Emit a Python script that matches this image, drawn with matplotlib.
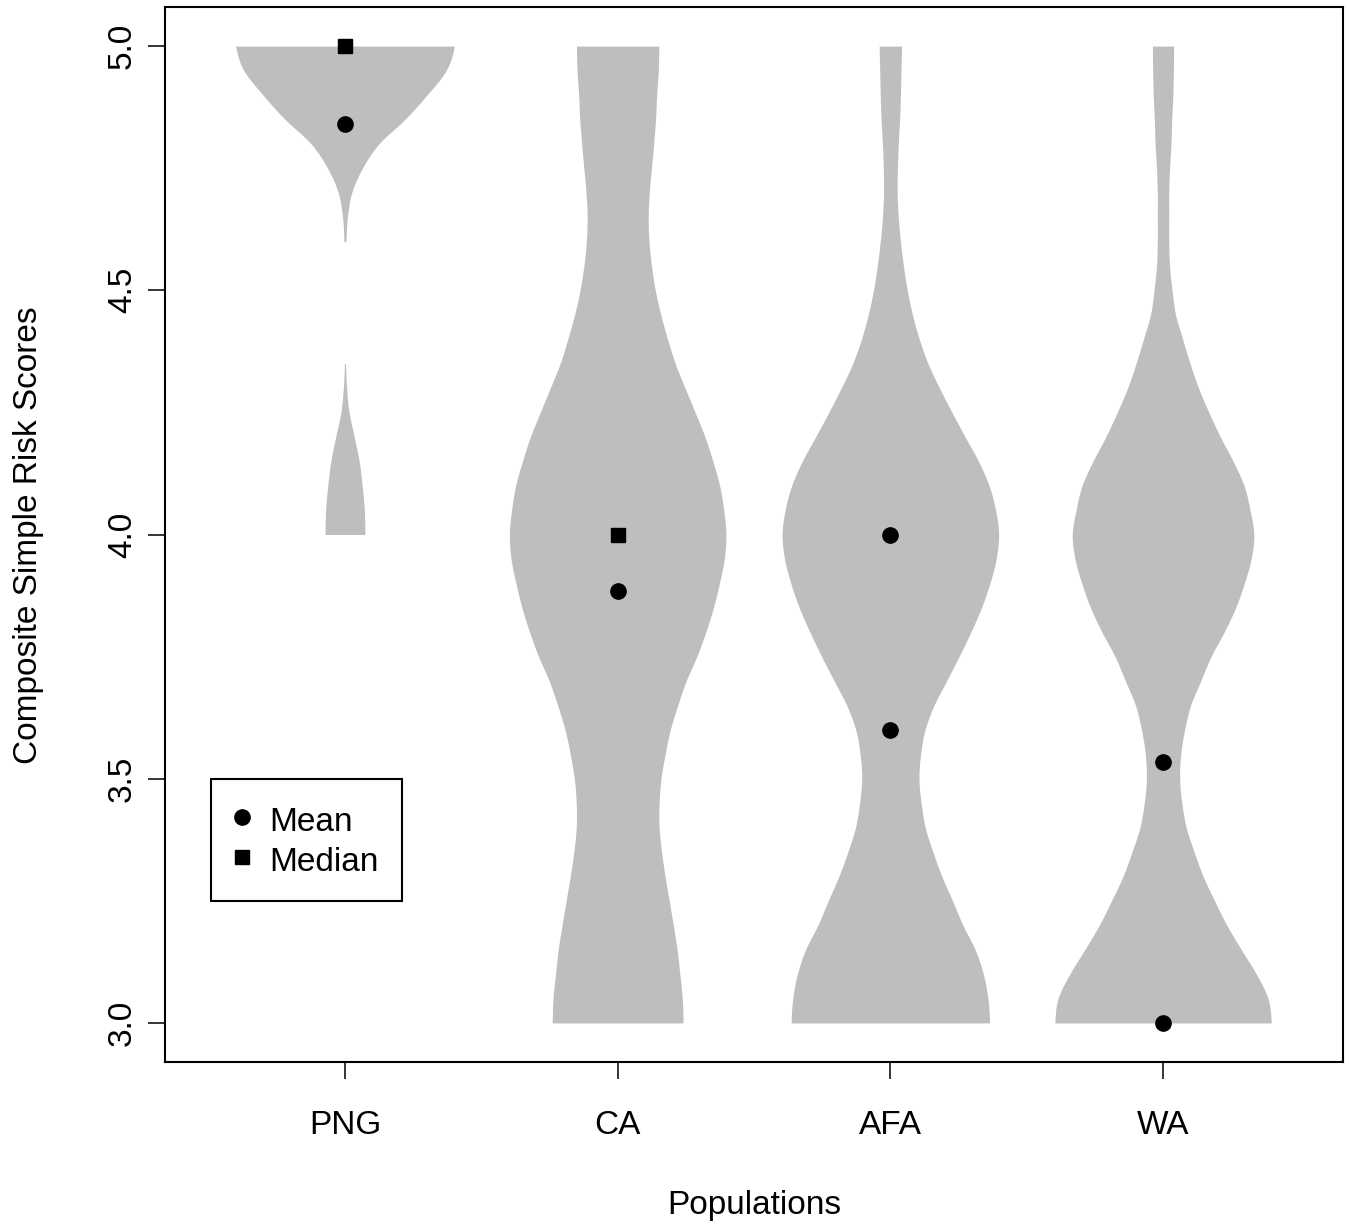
import numpy as np
import matplotlib
matplotlib.use("Agg")
import matplotlib.pyplot as plt
from matplotlib.lines import Line2D

# ---------------- data ----------------
populations = ["PNG", "CA", "AFA", "WA"]

# score levels at which the violin half-widths were read
score_grid = [5.00, 4.95, 4.90, 4.85, 4.80, 4.75, 4.70, 4.65, 4.60, 4.55,
              4.50, 4.45, 4.40, 4.35, 4.30, 4.25, 4.20, 4.15, 4.10, 4.05,
              4.00, 3.95, 3.90, 3.85, 3.80, 3.75, 3.70, 3.65, 3.60, 3.55,
              3.50, 3.45, 3.40, 3.35, 3.30, 3.25, 3.20, 3.15, 3.10, 3.05,
              3.00]

nan = float("nan")
# violin half-widths (density, in category-axis units)
png_width = [0.401, 0.371, 0.301, 0.220, 0.125, 0.064, 0.025, 0.009, 0.004, 0.000,
             0.000, 0.000, 0.000, 0.002, 0.006, 0.015, 0.034, 0.052, 0.063, 0.071,
             0.073, nan, nan, nan, nan, nan, nan, nan, nan, nan,
             nan, nan, nan, nan, nan, nan, nan, nan, nan, nan,
             nan]
ca_width = [0.151, 0.149, 0.143, 0.139, 0.132, 0.124, 0.116, 0.112, 0.115, 0.124,
            0.138, 0.158, 0.183, 0.211, 0.247, 0.284, 0.320, 0.349, 0.374, 0.389,
            0.397, 0.391, 0.373, 0.351, 0.323, 0.290, 0.251, 0.220, 0.193, 0.174,
            0.159, 0.152, 0.152, 0.161, 0.174, 0.189, 0.204, 0.218, 0.228, 0.237,
            0.240]
afa_width = [0.041, 0.039, 0.037, 0.034, 0.029, 0.026, 0.025, 0.029, 0.037, 0.048,
             0.062, 0.081, 0.106, 0.138, 0.180, 0.226, 0.274, 0.323, 0.362, 0.386,
             0.397, 0.388, 0.365, 0.334, 0.295, 0.252, 0.206, 0.160, 0.127, 0.111,
             0.105, 0.113, 0.128, 0.156, 0.189, 0.228, 0.266, 0.311, 0.341, 0.358,
             0.364]
wa_width = [0.039, 0.038, 0.036, 0.032, 0.029, 0.024, 0.021, 0.021, 0.021, 0.024,
            0.033, 0.046, 0.072, 0.099, 0.130, 0.168, 0.210, 0.257, 0.297, 0.319,
            0.333, 0.323, 0.298, 0.266, 0.224, 0.176, 0.138, 0.101, 0.079, 0.065,
            0.061, 0.069, 0.085, 0.114, 0.147, 0.189, 0.234, 0.287, 0.342, 0.385,
            0.397]

mean_scores = [4.84, 3.885, 3.60, 3.535]
median_scores = [5.00, 4.00, 4.00, 3.00]
median_shapes = ["s", "s", "o", "o"]

y_ticks = [3.0, 3.5, 4.0, 4.5, 5.0]
y_tick_labels = ["3.0", "3.5", "4.0", "4.5", "5.0"]


def smooth_run(y, w, n=12):
    """Catmull-Rom resampling of one contiguous run of readings (drawing only)."""
    if len(y) < 3:
        return y, w
    ys, ws = [], []
    k_last = len(y) - 1
    for k in range(k_last):
        p0 = w[max(k - 1, 0)]
        p1 = w[k]
        p2 = w[k + 1]
        p3 = w[min(k + 2, k_last)]
        t = np.linspace(0, 1, n, endpoint=False)
        seg = 0.5 * (2 * p1 + (-p0 + p2) * t + (2 * p0 - 5 * p1 + 4 * p2 - p3) * t ** 2
                     + (-p0 + 3 * p1 - 3 * p2 + p3) * t ** 3)
        ys.append(y[k] + (y[k + 1] - y[k]) * t)
        ws.append(seg)
    ys.append([y[-1]])
    ws.append([w[-1]])
    return np.concatenate(ys), np.clip(np.concatenate(ws), 0, None)


# ---------------- figure ----------------
W, H = 1349, 1226
fig = plt.figure(figsize=(W / 100, H / 100), dpi=100)
FONT = ["Liberation Sans", "DejaVu Sans"]
plt.rcParams["font.family"] = FONT

left, right, top, bottom = 165, 1343, 7, 1062
ax = fig.add_axes([left / W, 1 - bottom / H, (right - left) / W, (bottom - top) / H])

violin_color = "#BEBEBE"
grid = np.array(score_grid)
for i, w in enumerate([png_width, ca_width, afa_width, wa_width]):
    w = np.array(w, dtype=float)
    xc = i + 1
    valid = (~np.isnan(w)) & (w > 0)
    idx = np.where(valid)[0]
    runs = np.split(idx, np.where(np.diff(idx) > 1)[0] + 1)
    for r in runs:
        ys, ws = smooth_run(grid[r], w[r])
        ax.fill_betweenx(ys, xc - ws, xc + ws, color=violin_color,
                         linewidth=0, zorder=1)

pos = np.arange(1, len(populations) + 1)
ax.plot(pos, mean_scores, linestyle="none", marker="o", color="black",
        markersize=11, zorder=3)
for p, v, s in zip(pos, median_scores, median_shapes):
    ax.plot([p], [v], linestyle="none", marker=s, color="black",
            markersize=11 if s == "o" else 10.5, zorder=3)

ax.set_xlim(0.34, 4.66)
ax.set_ylim(2.92, 5.08)
ax.set_xticks(pos)
ax.set_xticklabels(populations)
ax.set_yticks(y_ticks)
ax.set_yticklabels(y_tick_labels, rotation=90, va="center")

for sp in ax.spines.values():
    sp.set_linewidth(1.5)
    sp.set_color("black")
ax.tick_params(axis="x", length=12.5, width=1.1, pad=22, labelsize=24)
ax.tick_params(axis="y", length=12.5, width=1.1, pad=7, labelsize=24)

fig.text(754 / W, 1 - 1214 / H, "Populations", ha="center", va="baseline",
         fontsize=24)
fig.text(29 / W, 1 - 535 / H, "Composite Simple Risk Scores", ha="center",
         va="center", rotation=90, fontsize=24)

handles = [Line2D([], [], linestyle="none", marker="o", color="black", markersize=11),
           Line2D([], [], linestyle="none", marker="s", color="black", markersize=10.5)]
leg = ax.legend(handles, ["Mean", "Median"], loc="upper left",
                bbox_to_anchor=(211 / W, 1 - 779 / H), bbox_transform=fig.transFigure,
                fontsize=24, frameon=True, fancybox=False, framealpha=1,
                edgecolor="black", borderpad=0.7, handlelength=0.45, handleheight=1.25,
                handletextpad=0.6, labelspacing=0.12, borderaxespad=0)
leg.get_frame().set_linewidth(1.5)

fig.savefig("out.png", dpi=100)
